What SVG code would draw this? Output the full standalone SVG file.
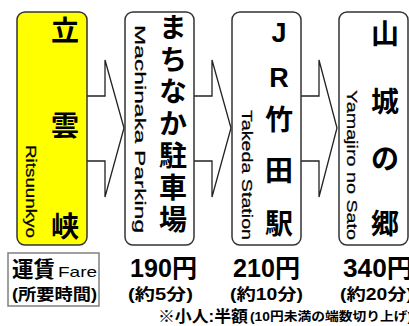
<svg xmlns="http://www.w3.org/2000/svg" width="409" height="326" viewBox="0 0 409 326">
<style>
.box{fill:#fff;stroke:#333;stroke-width:1.5}
.yel{fill:#ffff00}
.arr{fill:#fff;stroke:#222;stroke-width:1.3;stroke-linejoin:miter}
.jp{font-family:"Noto Sans CJK JP",sans-serif;font-weight:bold;font-size:28px;text-anchor:middle;fill:#000}
.lat{font-family:"Liberation Sans","Noto Sans CJK JP",sans-serif;font-weight:bold;font-size:27px;text-anchor:middle;fill:#000}
.en{font-family:"Liberation Sans",Arial,sans-serif;font-size:15px;fill:#000;stroke:#000;stroke-width:0.25}
.fare{font-family:"Liberation Sans","Noto Sans CJK JP",sans-serif;font-weight:bold;fill:#000}
</style>
<g id="connectors">
<path class="arr" d="M87,96 H105 V60 L124,128 L105,197 V161 H87"/>
<path class="arr" d="M194,96 H212 V60 L231,128 L212,197 V161 H194"/>
<path class="arr" d="M301,96 H319 V60 L337,128 L319,197 V161 H301"/>
</g>
<g id="ritsuunkyo">
<rect class="box yel" x="17" y="12" width="70" height="233" rx="8"/>
<text class="jp" x="65" y="41">立</text>
<text class="jp" x="65" y="136">雲</text>
<text class="jp" x="65" y="237">峡</text>
<text class="en" transform="translate(26,145) rotate(90)" textLength="93" lengthAdjust="spacingAndGlyphs">Ritsuunkyo</text>
</g>
<g id="machinaka">
<rect class="box" x="125" y="12" width="69" height="233" rx="8"/>
<text x="173" y="13" font-family="Noto Sans CJK JP,sans-serif" font-weight="bold" font-size="28" letter-spacing="4" style="writing-mode:vertical-rl">まちなか駐車場</text>
<text class="en" transform="translate(135,25) rotate(90)" textLength="208" lengthAdjust="spacingAndGlyphs">Machinaka Parking</text>
</g>
<g id="takeda">
<rect class="box" x="232" y="12" width="69" height="233" rx="8"/>
<text class="lat" x="279" y="42">J</text>
<text class="lat" x="279" y="87">R</text>
<text class="jp" x="279" y="130">竹</text>
<text class="jp" x="279" y="181">田</text>
<text class="jp" x="279" y="234">駅</text>
<text class="en" transform="translate(242,110) rotate(90)" textLength="130" lengthAdjust="spacingAndGlyphs">Takeda Station</text>
</g>
<g id="yamajiro">
<rect class="box" x="339" y="12" width="69" height="233" rx="8"/>
<text class="jp" x="385" y="44">山</text>
<text class="jp" x="385" y="112">城</text>
<text class="jp" x="385" y="169">の</text>
<text class="jp" x="385" y="234">郷</text>
<text class="en" transform="translate(347,90) rotate(90)" textLength="150" lengthAdjust="spacingAndGlyphs">Yamajiro no Sato</text>
</g>
<g id="fare-label">
<rect x="8" y="253" width="91" height="53" fill="#fff" stroke="#808080" stroke-width="1.5"/>
<text class="fare" x="12" y="277" font-size="22" textLength="43" lengthAdjust="spacingAndGlyphs">運賃</text>
<text x="58" y="277" font-family="Liberation Sans,Arial,sans-serif" font-size="15" textLength="39" lengthAdjust="spacingAndGlyphs">Fare</text>
<text class="fare" x="12" y="300" font-size="16" textLength="85" lengthAdjust="spacingAndGlyphs">(所要時間)</text>
</g>
<g id="fares">
<text class="fare" x="130" y="277" font-size="25" textLength="67" lengthAdjust="spacingAndGlyphs">190円</text>
<text class="fare" x="128" y="300" font-size="16" textLength="65" lengthAdjust="spacingAndGlyphs">(約5分)</text>
<text class="fare" x="233" y="277" font-size="25" textLength="67" lengthAdjust="spacingAndGlyphs">210円</text>
<text class="fare" x="230" y="300" font-size="16" textLength="73" lengthAdjust="spacingAndGlyphs">(約10分)</text>
<text class="fare" x="343" y="277" font-size="25" textLength="70" lengthAdjust="spacingAndGlyphs">340円</text>
<text class="fare" x="340" y="300" font-size="16" textLength="73" lengthAdjust="spacingAndGlyphs">(約20分)</text>
</g>
<g id="note">
<text class="fare" x="158" y="322" font-size="16" textLength="90" lengthAdjust="spacingAndGlyphs">※小人:半額</text>
<text class="fare" x="250" y="321" font-size="12.5" textLength="162" lengthAdjust="spacingAndGlyphs">(10円未満の端数切り上げ)</text>
</g>
</svg>
